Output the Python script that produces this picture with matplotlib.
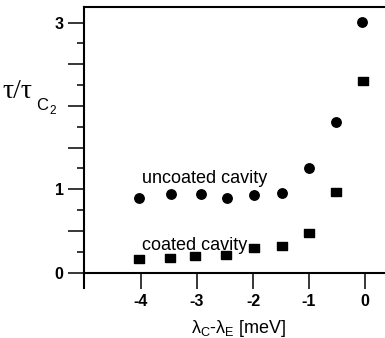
import matplotlib
matplotlib.use("Agg")
import matplotlib.pyplot as plt
from matplotlib.ticker import FixedLocator

plt.rcParams['font.family'] = ['Liberation Sans', 'DejaVu Sans']

# Data
detuning_uncoated = [-4.04, -3.47, -2.92, -2.47, -1.99, -1.49, -1.0, -0.52, -0.06]
tau_uncoated = [0.90, 0.94, 0.94, 0.89, 0.93, 0.96, 1.25, 1.81, 3.01]
detuning_coated = [-4.04, -3.49, -3.04, -2.49, -1.98, -1.49, -1.0, -0.52, -0.04]
tau_coated = [0.16, 0.18, 0.20, 0.21, 0.30, 0.32, 0.48, 0.97, 2.30]

xticks = [-4, -3, -2, -1, 0]
xtick_labels = ['-4', '-3', '-2', '-1', '0']
yticks_major = [0, 0.5, 1, 1.5, 2, 2.5, 3]
ytick_labels = ['0', '', '1', '', '', '', '3']
yticks_minor = [0.25, 0.75, 1.25, 1.75, 2.25, 2.75]

W, H = 385, 338
fig = plt.figure(figsize=(W / 100, H / 100), dpi=100)
left_px, right_px, top_px, bottom_px = 83.5, 385, 7, 288
ax = fig.add_axes([left_px / W, (H - bottom_px) / H,
                   (right_px - left_px) / W, (bottom_px - top_px) / H])

sq = [(-1, -0.72), (1, -0.72), (1, 0.72), (-1, 0.72), (-1, -0.72)]
ax.plot(detuning_uncoated, tau_uncoated, linestyle='none', marker='o',
        markersize=6.8, color='black', clip_on=False)
ax.plot(detuning_coated, tau_coated, linestyle='none', marker=sq,
        markersize=7.2, color='black', clip_on=False)

ax.set_xlim(-5.027, 0.357)
ax.set_ylim(-0.186, 3.188)

ax.spines['right'].set_visible(False)
ax.spines['bottom'].set_position(('data', 0))
for s in ['left', 'bottom', 'top']:
    ax.spines[s].set_linewidth(1.5)

ax.xaxis.set_major_locator(FixedLocator(xticks))
ax.set_xticklabels(xtick_labels)
ax.yaxis.set_major_locator(FixedLocator(yticks_major))
ax.set_yticklabels(ytick_labels)
ax.yaxis.set_minor_locator(FixedLocator(yticks_minor))

ax.tick_params(axis='x', which='major', direction='out', length=11.5, width=1.1,
               pad=4.0, labelsize=11.5, top=False)
ax.tick_params(axis='y', which='major', direction='out', length=11.5, width=1.1,
               pad=2.8, labelsize=11.5, right=False)
ax.tick_params(axis='y', which='minor', direction='out', length=5, width=1.1, right=False)
for lbl in ax.get_xticklabels() + ax.get_yticklabels():
    lbl.set_fontweight('bold')

def fx(px):
    return px / W

def fy(py):
    return (H - py) / H

# annotations
fig.text(fx(141.7), fy(182.7), 'uncoated cavity', fontsize=13, va='baseline', ha='left')
fig.text(fx(141.7), fy(249.5), 'coated cavity', fontsize=13, va='baseline', ha='left')

# y label pieces
fig.text(fx(2), fy(98), 'τ/τ', fontsize=20, family=['Liberation Serif', 'DejaVu Serif'],
         va='baseline', ha='left')
fig.text(fx(36), fy(109.5), 'C', fontsize=12, va='baseline', ha='left')
fig.text(fx(49.5), fy(113.5), '2', fontsize=8.5, va='baseline', ha='left')

# x label
fig.text(fx(238.5), fy(333), 'λ$_\\mathregular{C}$-λ$_\\mathregular{E}$ [meV]',
         fontsize=13, va='baseline', ha='center')

fig.savefig('out.png', dpi=100)
